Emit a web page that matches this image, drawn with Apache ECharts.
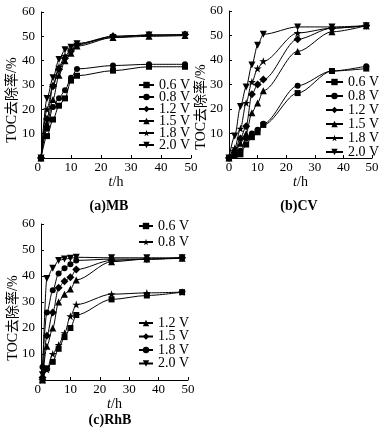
<!DOCTYPE html>
<html>
<head>
<meta charset="utf-8">
<script src="https://cdn.jsdelivr.net/npm/echarts@6/dist/echarts.min.js"></script>
<style>
html,body{margin:0;padding:0;background:#fff;}
#main{width:384px;height:428px;}
</style>
</head>
<body>
<div id="main"></div>
<script>
// ---- data ----
const voltages = ['0.6 V', '0.8 V', '1.2 V', '1.5 V', '1.8 V', '2.0 V'];
const xTicks = [0, 10, 20, 30, 40, 50];
const yTicks = [0, 10, 20, 30, 40, 50, 60];

const tMB = [0, 2, 4, 6, 8, 10, 12, 24, 36, 48];
const mb06 = [0, 9, 15.8, 21.5, 24.5, 31.8, 33.8, 35.9, 37.5, 37.5];
const mb08 = [0, 12, 21, 24.6, 27.8, 33, 36.6, 38, 38.5, 38.5];
const mb12 = [0, 16, 29.5, 36.5, 41, 44, 46.5, 50, 50.5, 50.8];
const mb15 = [0, 14, 24, 34, 40, 43, 46, 49.5, 50, 50.3];
const mb18 = [0, 20, 30, 37.5, 42, 44.5, 47, 50, 50.5, 50.5];
const mb20 = [0, 24.5, 33, 40.5, 44.5, 45.5, 47, 49.5, 50.5, 50.5];

const tCV = [0, 2, 4, 6, 8, 10, 12, 24, 36, 48];
const cv06 = [0, 1, 1.5, 5.5, 8.5, 10.5, 13.5, 26.5, 35.5, 36.5];
const cv08 = [0, 1.5, 3, 8, 10, 11.5, 14, 29.5, 35.5, 37.5];
const cv12 = [0, 3, 8, 13, 26, 30, 32, 48.5, 53, 54];
const cv15 = [0, 2, 6, 10, 18.5, 22.5, 27.5, 43.5, 51.5, 54];
const cv18 = [0, 4, 12, 22.5, 31, 36.5, 39.5, 51, 53, 54];
const cv20 = [0, 9, 21, 29, 38, 46, 50.5, 53.5, 53.5, 54];

const tRhB = [0.5, 2, 4, 6, 8, 10, 12, 24, 36, 48];
const rh06 = [0, 4.5, 7, 12, 16.5, 20, 25, 31, 32.5, 33.8];
const rh08 = [0, 4, 10, 13.5, 18, 24.5, 29, 33, 33.5, 33.8];
const rh12 = [0, 13, 20, 30, 33, 35, 38.5, 45.5, 46.5, 46.8];
const rh15 = [1, 17, 26, 35.5, 38, 39.5, 42.5, 46, 46.5, 47];
const rh18 = [5, 26, 34.5, 41, 43, 44.5, 46, 46.5, 46.5, 47];
const rh20 = [2, 39, 43, 46, 46.5, 46.8, 47.2, 47, 47, 47];

const captions = ['(a)MB', '(b)CV', '(c)RhB'];
const yName = 'TOC去除率/%';

// ---- styling helpers ----
const FONT = '"Liberation Serif", "Times New Roman", "Noto Sans CJK SC", serif';
const SYM = {
  rect: 'rect',
  circle: 'circle',
  diamond: 'diamond',
  triangle: 'triangle',
  star: 'path://M5,0L6.2,3.6L10,3.6L6.9,5.8L8.1,9.5L5,7.2L1.9,9.5L3.1,5.8L0,3.6L3.8,3.6Z',
  down: 'path://M0,0L10,0L5,9Z'
};
const SIZE = { rect: 6, circle: 6, diamond: 8, triangle: 7, star: 8, down: 7 };
const symAB = ['rect', 'circle', 'diamond', 'triangle', 'star', 'down'];
const symC = ['rect', 'star', 'triangle', 'diamond', 'circle', 'down'];

function pairs(t, v) { return t.map((x, i) => [x, v[i]]); }

const panels = [
  { key: 'a', t: tMB, vals: [mb06, mb08, mb12, mb15, mb18, mb20], syms: symAB },
  { key: 'b', t: tCV, vals: [cv06, cv08, cv12, cv15, cv18, cv20], syms: symAB },
  { key: 'c', t: tRhB, vals: [rh06, rh08, rh12, rh15, rh18, rh20], syms: symC }
];

const series = [];
panels.forEach((p, pi) => {
  p.vals.forEach((v, vi) => {
    const s = p.syms[vi];
    series.push({
      name: voltages[vi] + '|' + p.key,
      type: 'line',
      xAxisIndex: pi,
      yAxisIndex: pi,
      data: pairs(p.t, v),
      smooth: 0.3,
      smoothMonotone: 'x',
      symbol: SYM[s],
      symbolSize: SIZE[s],
      showAllSymbol: true,
      lineStyle: { color: '#000', width: 1 },
      itemStyle: { color: '#000', borderWidth: 0 },
      emphasis: { disabled: true },
      animation: false,
      z: 3
    });
  });
});

const grids = [
  { left: 41, top: 12, width: 150, height: 146 },
  { left: 229, top: 11, width: 143, height: 147 },
  { left: 41, top: 224, width: 147, height: 156 }
];

function xAxis(i, gap, alignMin) {
  return {
    gridIndex: i, type: 'value', min: xTicks[0], max: xTicks[xTicks.length - 1], interval: 10,
    name: '{i|t}/h', nameLocation: 'middle', nameGap: gap,
    nameTextStyle: { fontFamily: FONT, fontSize: 14, color: '#000',
      rich: { i: { fontStyle: 'italic', fontFamily: FONT, fontSize: 14, color: '#000' } } },
    axisLine: { show: true, lineStyle: { color: '#000', width: 1 } },
    axisTick: { show: true, inside: true, length: 3, lineStyle: { color: '#000' } },
    axisLabel: { fontFamily: FONT, fontSize: 13, color: '#000', margin: 3, alignMinLabel: alignMin },
    splitLine: { show: false }
  };
}
function yAxis(i) {
  return {
    gridIndex: i, type: 'value', min: yTicks[0], max: yTicks[yTicks.length - 1], interval: 10,
    axisLine: { show: true, lineStyle: { color: '#000', width: 1 } },
    axisTick: { show: true, inside: true, length: 3, lineStyle: { color: '#000' } },
    axisLabel: { fontFamily: FONT, fontSize: 13, color: '#000', margin: 6, showMinLabel: false },
    splitLine: { show: false }
  };
}

function legend(key, names, left, top, gap, itemWidth, textGap) {
  return {
    show: true, orient: 'vertical', left: left, top: top,
    data: names.map(n => n + '|' + key),
    itemWidth: itemWidth, itemHeight: 8, itemGap: gap, itemTextGap: textGap,
    padding: 0, selectedMode: false,
    formatter: n => n.split('|')[0],
    textStyle: { fontFamily: FONT, fontSize: 14, color: '#000' }
  };
}

function yTitle(x, y) {
  return {
    type: 'text', x: x, y: y, rotation: Math.PI / 2,
    style: { text: yName, font: '14px ' + FONT, fill: '#000',
      align: 'center', verticalAlign: 'middle', textAlign: 'center', textVerticalAlign: 'middle' }
  };
}
function caption(text, x, y) {
  return {
    type: 'text', x: x, y: y,
    style: { text: text, font: 'bold 14px ' + FONT, fill: '#000',
      align: 'center', verticalAlign: 'middle', textAlign: 'center', textVerticalAlign: 'middle' }
  };
}

const option = {
  backgroundColor: '#fff',
  animation: false,
  color: ['#000'],
  grid: grids,
  xAxis: [xAxis(0, 17, 'right'), xAxis(1, 17), xAxis(2, 16, 'right')],
  yAxis: [yAxis(0), yAxis(1), yAxis(2)],
  legend: [
    legend('a', voltages, 138, 78, -2, 15, 8),
    legend('b', voltages, 325, 75, 0, 17, 5),
    legend('c', voltages.slice(0, 2), 138, 219, 2, 14, 7),
    legend('c', voltages.slice(2), 138, 316, -0.5, 14, 7)
  ],
  graphic: [
    yTitle(12, 100), yTitle(201, 107), yTitle(13, 318),
    caption(captions[0], 109, 206), caption(captions[1], 299, 206), caption(captions[2], 110, 420)
  ],
  series: series
};

const chart = echarts.init(document.getElementById('main'), null, { renderer: 'canvas' });
chart.setOption(option);
</script>
</body>
</html>
